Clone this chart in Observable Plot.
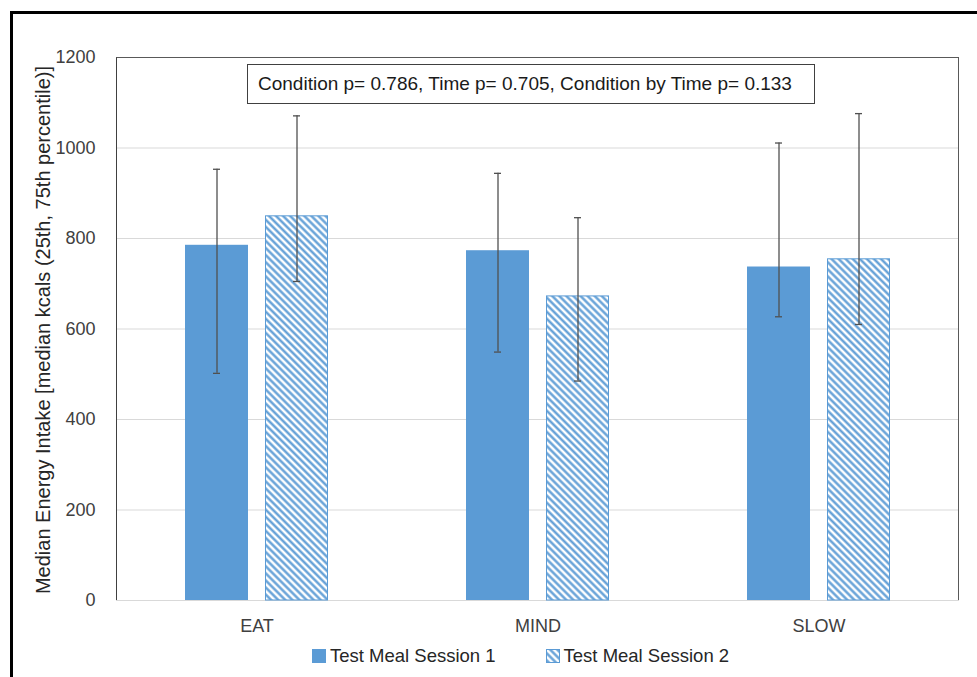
<!DOCTYPE html>
<html>
<head>
<meta charset="utf-8">
<script src="https://cdn.jsdelivr.net/npm/d3@7"></script>
<script src="https://cdn.jsdelivr.net/npm/@observablehq/plot@0.6"></script>
<style>
  html, body { margin: 0; padding: 0; background: #fff; }
  body { width: 977px; height: 677px; overflow: hidden; position: relative; font-family: "Liberation Sans", Arial, sans-serif; color: #404040; }
  #outer { position: absolute; left: 10px; top: 11px; width: 1100px; height: 800px; border: 3px solid #000; box-sizing: border-box; }
  #chart { position: absolute; left: 0; top: 0; }
  #plotframe { position: absolute; left: 115.5px; top: 56.5px; width: 843px; height: 543px; border-top: 1.2px solid #595959; border-left: 1.2px solid #404040; border-right: 1.2px solid #595959; box-sizing: border-box; pointer-events: none; }
  #ylabel { position: absolute; left: 43px; top: 330px; transform: translate(-50%, -50%) rotate(-90deg); white-space: nowrap; font-size: 20px; color: #262626; }
  #note { position: absolute; left: 247px; top: 64px; width: 568px; height: 40px; border: 1.5px solid #404040; box-sizing: border-box; font-size: 19px; color: #1a1a1a; line-height: 37px; padding-left: 10px; white-space: nowrap; background: #fff; }
  #legend { position: absolute; top: 645px; left: 312px; display: flex; gap: 50px; font-size: 18.5px; color: #262626; }
  .item { display: flex; align-items: center; gap: 4px; }
</style>
</head>
<body>
<div id="outer"></div>
<div id="chart"></div>
<div id="plotframe"></div>
<div id="ylabel">Median Energy Intake [median kcals (25th, 75th percentile)]</div>
<div id="note"></div>
<div id="legend"></div>
<script>
// ---- Data ----
const conditions = ["EAT", "MIND", "SLOW"];
const sessions = ["Test Meal Session 1", "Test Meal Session 2"];
const median1 = [785, 773, 737];
const median2 = [849, 672, 754];
const p25_1 = [502, 549, 627];
const p75_1 = [953, 944, 1011];
const p25_2 = [705, 485, 610];
const p75_2 = [1071, 846, 1076];
const yTicks = [0, 200, 400, 600, 800, 1000, 1200];
const noteText = "Condition p= 0.786, Time p= 0.705, Condition by Time p= 0.133";

const blue = "#5B9BD5";

const rows = [];
conditions.forEach((c, i) => {
  rows.push({condition: c, session: sessions[0], median: median1[i], p25: p25_1[i], p75: p75_1[i]});
  rows.push({condition: c, session: sessions[1], median: median2[i], p25: p25_2[i], p75: p75_2[i]});
});
const s1 = rows.filter(d => d.session === sessions[0]);
const s2 = rows.filter(d => d.session === sessions[1]);

const chart = Plot.plot({
  width: 977,
  height: 645,
  marginLeft: 116,
  marginRight: 18,
  marginTop: 57,
  marginBottom: 45,
  style: {fontFamily: "Liberation Sans, Arial, sans-serif", fontSize: "18px", color: "#404040", background: "transparent", overflow: "visible"},
  fx: {domain: conditions, padding: 0, label: null, axis: "bottom", tickSize: 0, tickPadding: 19},
  x: {domain: sessions, paddingInner: 0.21, paddingOuter: 0.84, axis: null},
  y: {domain: [0, 1200], ticks: yTicks, tickFormat: d => String(d), label: null, tickSize: 0, tickPadding: 21, grid: false},
  marks: [
    Plot.ruleY(yTicks, {stroke: "#D9D9D9", strokeWidth: 1}),
    Plot.barY(s1, {fx: "condition", x: "session", y: "median", fill: blue}),
    Plot.barY(s2, {fx: "condition", x: "session", y: "median", fill: "url(#hatch)", stroke: blue, strokeWidth: 1, insetLeft: 0.5, insetRight: 0.5}),
    Plot.ruleX(rows, {fx: "condition", x: "session", y1: "p25", y2: "p75", stroke: "#505050", strokeWidth: 1.3}),
    Plot.tickY(rows, {fx: "condition", x: "session", y: "p25", stroke: "#505050", strokeWidth: 1.3, insetLeft: 28, insetRight: 28}),
    Plot.tickY(rows, {fx: "condition", x: "session", y: "p75", stroke: "#505050", strokeWidth: 1.3, insetLeft: 28, insetRight: 28})
  ]
});

const ns = "http://www.w3.org/2000/svg";
function addHatch(svg, id) {
  const defs = document.createElementNS(ns, "defs");
  defs.innerHTML = `<pattern id="${id}" patternUnits="userSpaceOnUse" width="5" height="5" patternTransform="rotate(-45)">
      <rect width="5" height="5" fill="#fff"/>
      <line x1="2.5" y1="-1" x2="2.5" y2="6" stroke="${blue}" stroke-width="2.3"/>
    </pattern>`;
  svg.insertBefore(defs, svg.firstChild);
}
addHatch(chart, "hatch");
document.getElementById("chart").appendChild(chart);

// Legend
const legend = document.getElementById("legend");
sessions.forEach((s, i) => {
  const item = document.createElement("div");
  item.className = "item";
  const sw = document.createElementNS(ns, "svg");
  sw.setAttribute("width", 14); sw.setAttribute("height", 14);
  if (i === 1) addHatch(sw, "hatchLegend");
  const r = document.createElementNS(ns, "rect");
  r.setAttribute("x", 0.5); r.setAttribute("y", 0.5); r.setAttribute("width", 13); r.setAttribute("height", 13);
  r.setAttribute("fill", i === 0 ? blue : "url(#hatchLegend)");
  r.setAttribute("stroke", blue);
  sw.appendChild(r);
  const t = document.createElement("span");
  t.textContent = s;
  item.appendChild(sw); item.appendChild(t);
  legend.appendChild(item);
});
document.getElementById("note").textContent = noteText;
</script>
</body>
</html>
